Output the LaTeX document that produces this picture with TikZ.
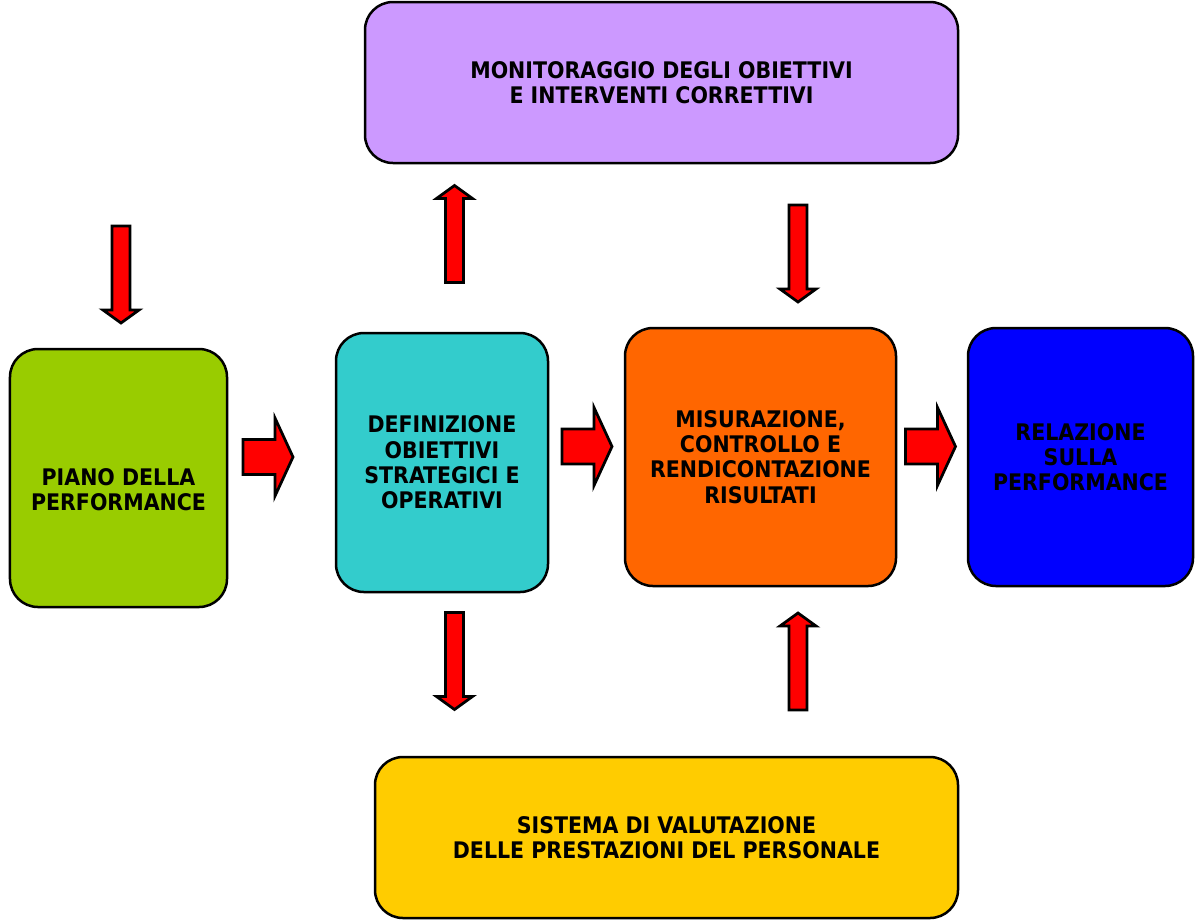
\documentclass[tikz,border=0pt]{standalone}
\usepackage{fontspec}
\setmainfont{DejaVu Sans Condensed}
\usepackage{xcolor}
\definecolor{lilac}{RGB}{204,153,255}
\definecolor{grassgreen}{RGB}{153,204,0}
\definecolor{teal}{RGB}{51,204,204}
\definecolor{orangebox}{RGB}{255,102,0}
\definecolor{bluebox}{RGB}{0,0,255}
\definecolor{goldbox}{RGB}{255,204,0}
\usetikzlibrary{positioning}

\tikzset{
    box/.style={draw, line width=0.5mm, rounded corners=5.6mm, align=center,
        font=\fontsize{13}{14.4}\selectfont\bfseries, inner sep=0pt},
    redarrow/.style={draw, line width=0.55mm, fill=red, line join=miter},
    downarrow/.pic={\path[redarrow] (-9,-48.5) -- (-9,35.5) -- (-18,35.5) -- (0,48.5) -- (18,35.5) -- (9,35.5) -- (9,-48.5) -- cycle;},
    rightarrow/.pic={\path[redarrow] (-25,-17.5) -- (7,-17.5) -- (7,-39) -- (25,0) -- (7,39) -- (7,17.5) -- (-25,17.5) -- cycle;}
}

\begin{document}
\begin{tikzpicture}[x=0.2mm, y=-0.2mm]
    \useasboundingbox (0,0) rectangle (1198,920);
    % boxes
    \node[box, fill=lilac, minimum width=118.6mm, minimum height=32.2mm] (mon) at (661.5,82.5) {MONITORAGGIO DEGLI OBIETTIVI\\E INTERVENTI CORRETTIVI};
    \node[box, fill=grassgreen, minimum width=43.4mm, minimum height=51.6mm] (piano) at (118.5,478) {\mbox{}\\[8.7pt]PIANO DELLA\\PERFORMANCE};
    \node[box, fill=teal, minimum width=42.4mm, minimum height=51.8mm] (def) at (442,462.5) {DEFINIZIONE\\OBIETTIVI\\STRATEGICI E\\OPERATIVI};
    \node[box, fill=orangebox, minimum width=54.2mm, minimum height=51.6mm] (mis) at (760.5,457) {MISURAZIONE,\\CONTROLLO E\\RENDICONTAZIONE\\RISULTATI};
    \node[box, fill=bluebox, minimum width=45mm, minimum height=51.6mm] (rel) at (1080.5,457) {RELAZIONE\\SULLA\\PERFORMANCE};
    \node[box, fill=goldbox, minimum width=116.6mm, minimum height=32.2mm] (sis) at (666.5,837.5) {SISTEMA DI VALUTAZIONE\\DELLE PRESTAZIONI DEL PERSONALE};
    % arrows
    \pic at (121,274.5) {downarrow};
    \pic[rotate=180] at (454.5,234) {downarrow};
    \pic at (454.5,661) {downarrow};
    \pic at (798,253.5) {downarrow};
    \pic[rotate=180] at (798,661.5) {downarrow};
    \pic at (268,457) {rightarrow};
    \pic at (587,446.5) {rightarrow};
    \pic at (930.5,446.5) {rightarrow};
\end{tikzpicture}
\end{document}
